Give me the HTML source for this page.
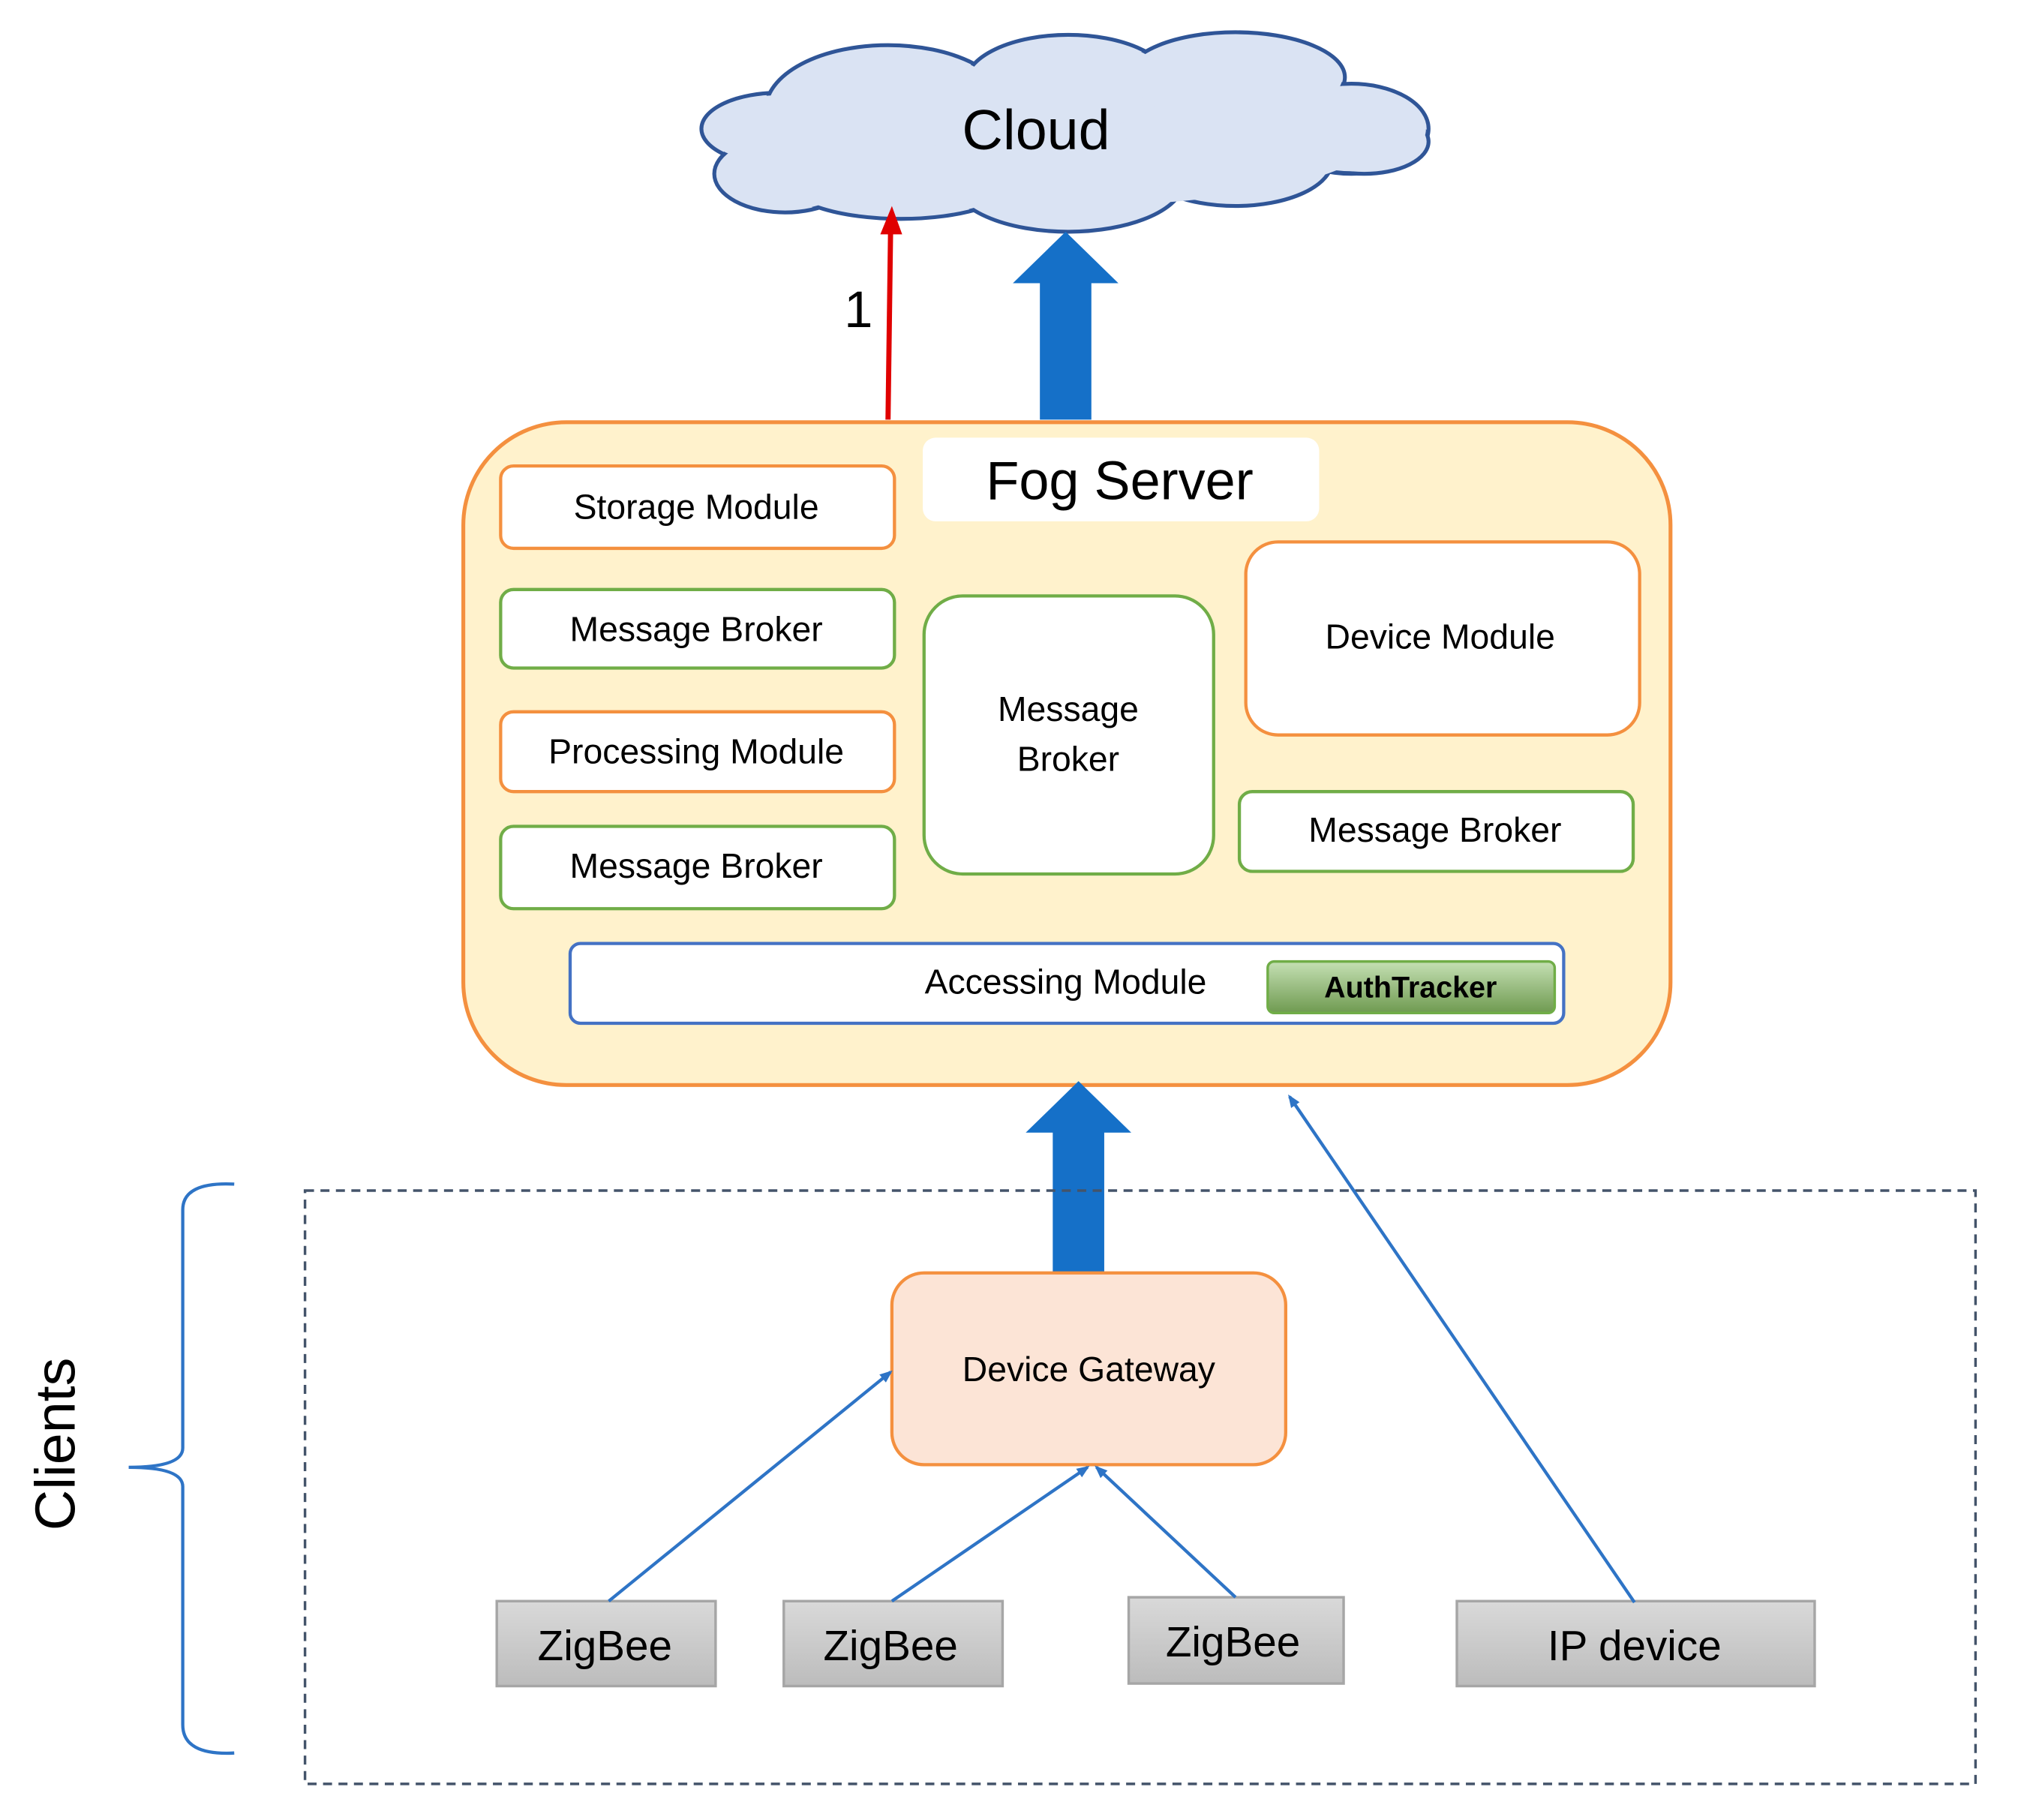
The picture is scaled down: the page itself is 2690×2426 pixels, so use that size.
<!DOCTYPE html>
<html><head><meta charset="utf-8"><style>html,body{margin:0;padding:0;background:#fff}svg{display:block}</style></head>
<body>
<svg width="2690" height="2426" viewBox="0 0 1568 1414" xmlns="http://www.w3.org/2000/svg" font-family="'Liberation Sans', sans-serif">
<defs>
<linearGradient id="auth" x1="0" y1="0" x2="0" y2="1"><stop offset="0" stop-color="#c5e0b4"/><stop offset="1" stop-color="#6f9a50"/></linearGradient>
<linearGradient id="gray" x1="0" y1="0" x2="0" y2="1"><stop offset="0" stop-color="#d9d9d9"/><stop offset="1" stop-color="#bcbcbc"/></linearGradient>
<marker id="bl" markerWidth="10" markerHeight="10" refX="8" refY="5" orient="auto" markerUnits="userSpaceOnUse"><path d="M0,1 L10,5 L0,9 z" fill="#2e74c6"/></marker>
</defs>
<!-- cloud -->
<g stroke="#2f5597" stroke-width="3" fill="#dae3f3">
<ellipse cx="605" cy="100" rx="60" ry="28"/><ellipse cx="610" cy="135" rx="55" ry="30"/><ellipse cx="690" cy="85" rx="95" ry="50"/><ellipse cx="700" cy="140" rx="90" ry="30"/><ellipse cx="830" cy="65" rx="80" ry="38"/><ellipse cx="830" cy="140" rx="90" ry="40"/><ellipse cx="960" cy="60" rx="85" ry="35"/><ellipse cx="960" cy="125" rx="75" ry="35"/><ellipse cx="1050" cy="100" rx="60" ry="35"/><ellipse cx="1060" cy="110" rx="50" ry="25"/>
</g>
<g fill="#dae3f3">
<ellipse cx="830" cy="105" rx="240" ry="55"/>
<ellipse cx="605" cy="100" rx="58" ry="26"/><ellipse cx="610" cy="135" rx="53" ry="28"/><ellipse cx="690" cy="85" rx="93" ry="48"/><ellipse cx="700" cy="140" rx="88" ry="28"/><ellipse cx="830" cy="65" rx="78" ry="36"/><ellipse cx="830" cy="140" rx="88" ry="38"/><ellipse cx="960" cy="60" rx="83" ry="33"/><ellipse cx="960" cy="125" rx="73" ry="33"/><ellipse cx="1050" cy="100" rx="58" ry="33"/><ellipse cx="1060" cy="110" rx="48" ry="23"/>
</g>
<text x="805" y="116" font-size="44" text-anchor="middle" fill="#000">Cloud</text>
<!-- red arrow -->
<line x1="690" y1="326" x2="692" y2="178" stroke="#e00000" stroke-width="4"/>
<path d="M684,182 L693,160 L701,182 z" fill="#e00000"/>
<text x="667" y="254" font-size="40" text-anchor="middle">1</text>
<!-- blue arrow up to cloud -->
<path d="M808,326 L808,220 L787,220 L828,180 L869,220 L848,220 L848,326 z" fill="#1570c8"/>
<!-- fog -->
<rect x="360" y="328" width="938" height="515" rx="80" fill="#fff2cc" stroke="#f4903f" stroke-width="3"/>
<rect x="717" y="340" width="308" height="65" rx="10" fill="#fff"/>
<text x="870" y="388" font-size="42" text-anchor="middle">Fog Server</text>
<g stroke-width="2.5" fill="#fff">
<rect x="389" y="362" width="306" height="64" rx="10" stroke="#f4903f"/>
<rect x="389" y="458" width="306" height="61" rx="10" stroke="#70ad47"/>
<rect x="389" y="553" width="306" height="62" rx="10" stroke="#f4903f"/>
<rect x="389" y="642" width="306" height="64" rx="10" stroke="#70ad47"/>
<rect x="718" y="463" width="225" height="216" rx="30" stroke="#70ad47"/>
<rect x="968" y="421" width="306" height="150" rx="25" stroke="#f4903f"/>
<rect x="963" y="615" width="306" height="62" rx="10" stroke="#70ad47"/>
<rect x="443" y="733" width="772" height="62" rx="8" stroke="#4472c4"/>
</g>
<g font-size="27" text-anchor="middle" fill="#000">
<text x="541" y="403">Storage Module</text>
<text x="541" y="498">Message Broker</text>
<text x="541" y="593">Processing Module</text>
<text x="541" y="682">Message Broker</text>
<text x="830" y="560">Message</text>
<text x="830" y="599">Broker</text>
<text x="1119" y="504">Device Module</text>
<text x="1115" y="654">Message Broker</text>
<text x="828" y="772">Accessing Module</text>
</g>
<rect x="985" y="747" width="223" height="40" rx="5" fill="url(#auth)" stroke="#70ad47" stroke-width="2"/>
<text x="1096" y="775" font-size="23" font-weight="bold" text-anchor="middle">AuthTracker</text>
<!-- lower blue arrow -->
<path d="M818,988 L818,880 L797,880 L838,840 L879,880 L858,880 L858,988 z" fill="#1570c8"/>
<!-- dashed box -->
<rect x="237" y="925" width="1298" height="461" fill="none" stroke="#44546a" stroke-width="2" stroke-dasharray="7,5"/>
<!-- brace -->
<path d="M182,920 Q142,918 142,940 L142,1125 Q142,1140 100,1140 Q142,1140 142,1155 L142,1340 Q142,1364 182,1362" fill="none" stroke="#2e74c6" stroke-width="2.5"/>
<text transform="translate(58,1122) rotate(-90)" font-size="44" text-anchor="middle">Clients</text>
<!-- gateway -->
<rect x="693" y="989" width="306" height="149" rx="25" fill="#fce4d6" stroke="#f4903f" stroke-width="2.5"/>
<text x="846" y="1073" font-size="27" text-anchor="middle">Device Gateway</text>
<!-- devices -->
<g fill="url(#gray)" stroke="#a6a6a6" stroke-width="2">
<rect x="386" y="1244" width="170" height="66"/>
<rect x="609" y="1244" width="170" height="66"/>
<rect x="877" y="1241" width="167" height="67"/>
<rect x="1132" y="1244" width="278" height="66"/>
</g>
<g font-size="33" text-anchor="middle">
<text x="470" y="1290">ZigBee</text>
<text x="692" y="1290">ZigBee</text>
<text x="958" y="1287">ZigBee</text>
<text x="1270" y="1290">IP device</text>
</g>
<!-- thin arrows -->
<g stroke="#2e74c6" stroke-width="2.5" marker-end="url(#bl)">
<line x1="473" y1="1244" x2="692" y2="1066"/>
<line x1="693" y1="1244" x2="845" y2="1140"/>
<line x1="960" y1="1241" x2="852" y2="1140"/>
<line x1="1270" y1="1245" x2="1002" y2="852"/>
</g>
</svg>
</body></html>
